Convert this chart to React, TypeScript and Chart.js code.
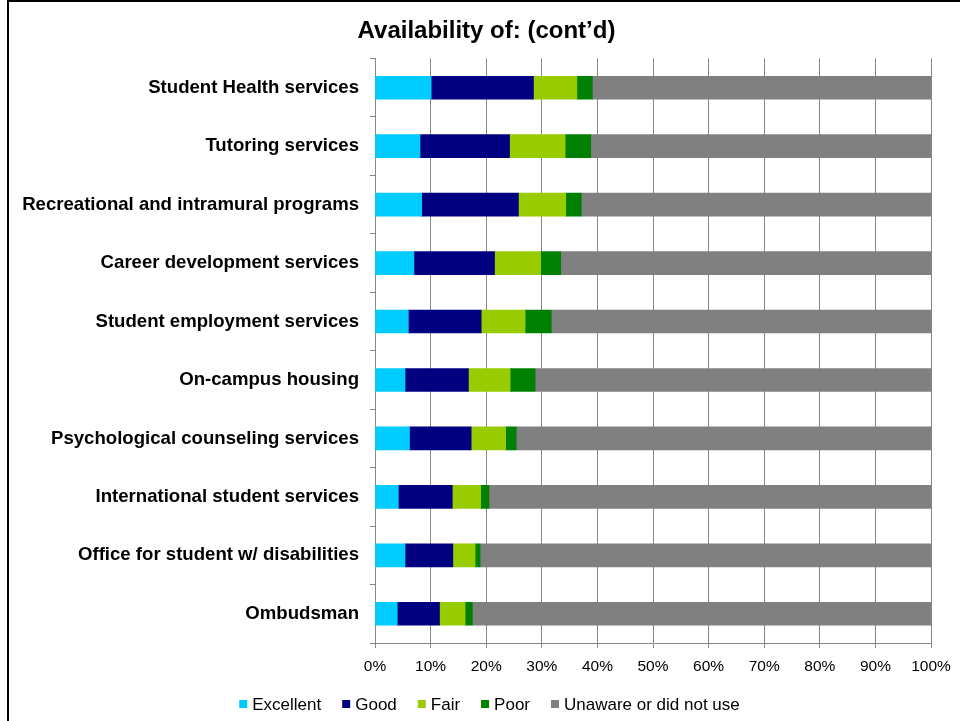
import React, { useEffect, useRef } from "react";
import { Chart, registerables } from "chart.js";

Chart.register(...registerables);

const TITLE = "Availability of: (cont\u2019d)";
const categories = [
  "Student Health services",
  "Tutoring services",
  "Recreational and intramural programs",
  "Career development services",
  "Student employment services",
  "On-campus housing",
  "Psychological counseling services",
  "International student services",
  "Office for student w/ disabilities",
  "Ombudsman",
];
const seriesNames = ["Excellent", "Good", "Fair", "Poor", "Unaware or did not use"];
const seriesColors = ["#00CCFF", "#000080", "#99CC00", "#008000", "#808080"];
const excellent = [10.1, 8.1, 8.4, 7.0, 6.0, 5.4, 6.2, 4.2, 5.4, 4.0];
const good = [18.4, 16.1, 17.4, 14.5, 13.1, 11.4, 11.1, 9.7, 8.6, 7.6];
const fair = [7.8, 10.0, 8.5, 8.3, 7.9, 7.5, 6.2, 5.1, 4.0, 4.6];
const poor = [2.8, 4.6, 2.8, 3.6, 4.7, 4.5, 1.9, 1.5, 0.9, 1.3];
const unaware = [60.9, 61.2, 62.9, 66.6, 68.3, 71.2, 74.6, 79.5, 81.1, 82.5];
const seriesValues = [excellent, good, fair, poor, unaware];
const xTicks = [0, 10, 20, 30, 40, 50, 60, 70, 80, 90, 100];

const FONT = "'Liberation Sans', Arial, sans-serif";
const GRID = "#868686";

const framePlugin = {
  id: "frame",
  afterDraw(chart: any) {
    const ctx = chart.ctx;
    ctx.save();
    ctx.fillStyle = "#000";
    ctx.fillRect(7, 0, 953, 2);
    ctx.fillRect(7, 0, 2, 721);
    ctx.font = `bold 24px ${FONT}`;
    ctx.textAlign = "center";
    ctx.textBaseline = "middle";
    ctx.fillText(TITLE, 486.5, 31);
    ctx.restore();
  },
};

const legendPlugin = {
  id: "customLegend",
  afterDraw(chart: any) {
    const ctx = chart.ctx;
    ctx.save();
    ctx.font = `17px ${FONT}`;
    const box = 8;
    const gapText = 5;
    const gapItem = 21;
    const items = chart.data.datasets.map((d: any) => ({
      text: d.label,
      color: d.backgroundColor,
      w: box + gapText + ctx.measureText(d.label).width,
    }));
    const total = items.reduce((s: number, it: any) => s + it.w, 0) + gapItem * (items.length - 1);
    let x = 489.5 - total / 2;
    const cy = 704;
    ctx.textBaseline = "middle";
    ctx.textAlign = "left";
    for (const it of items) {
      ctx.fillStyle = it.color;
      ctx.fillRect(x, cy - box / 2, box, box);
      ctx.fillStyle = "#000";
      ctx.fillText(it.text, x + box + gapText, cy + 1);
      x += it.w + gapItem;
    }
    ctx.restore();
  },
};

export default function App() {
  const ref = useRef<HTMLCanvasElement | null>(null);
  useEffect(() => {
    if (!ref.current) return;
    const chart = new Chart(ref.current, {
      type: "bar",
      data: {
        labels: categories,
        datasets: seriesNames.map((name, i) => ({
          label: name,
          data: seriesValues[i],
          backgroundColor: seriesColors[i],
          borderWidth: 0,
          barThickness: 23,
        })),
      },
      options: {
        indexAxis: "y",
        responsive: false,
        animation: false,
        devicePixelRatio: 1,
        layout: { padding: { left: 0, right: 29, top: 58.5, bottom: 38 } },
        plugins: {
          legend: { display: false },
          tooltip: { enabled: false },
          title: { display: false },
        },
        scales: {
          x: {
            stacked: true,
            min: 0,
            max: 100,
            afterBuildTicks: (scale: any) => {
              scale.ticks = xTicks.map((v) => ({ value: v }));
            },
            afterFit: (scale: any) => {
              scale.height = 40;
            },
            ticks: {
              color: "#000",
              font: { family: FONT, size: 15.5 },
              padding: 9,
              maxRotation: 0,
              autoSkip: false,
              callback: (v: any) => `${v}%`,
            },
            grid: { color: GRID, lineWidth: 1, tickLength: 5, tickColor: GRID },
            border: { color: GRID, width: 1 },
          },
          y: {
            stacked: true,
            afterFit: (scale: any) => {
              scale.width = 375;
            },
            ticks: {
              color: "#000",
              font: { family: FONT, size: 18.6, weight: "bold" },
              padding: 11,
              autoSkip: false,
            },
            grid: { drawOnChartArea: false, tickLength: 5, tickColor: GRID, offset: true },
            border: { color: GRID, width: 1 },
          },
        },
      },
      plugins: [framePlugin, legendPlugin],
    });
    return () => chart.destroy();
  }, []);
  return (
    <div style={{ position: "absolute", left: 0, top: 0, width: 960, height: 721, background: "#fff" }}>
      <canvas ref={ref} width={960} height={721} style={{ display: "block" }} />
    </div>
  );
}
